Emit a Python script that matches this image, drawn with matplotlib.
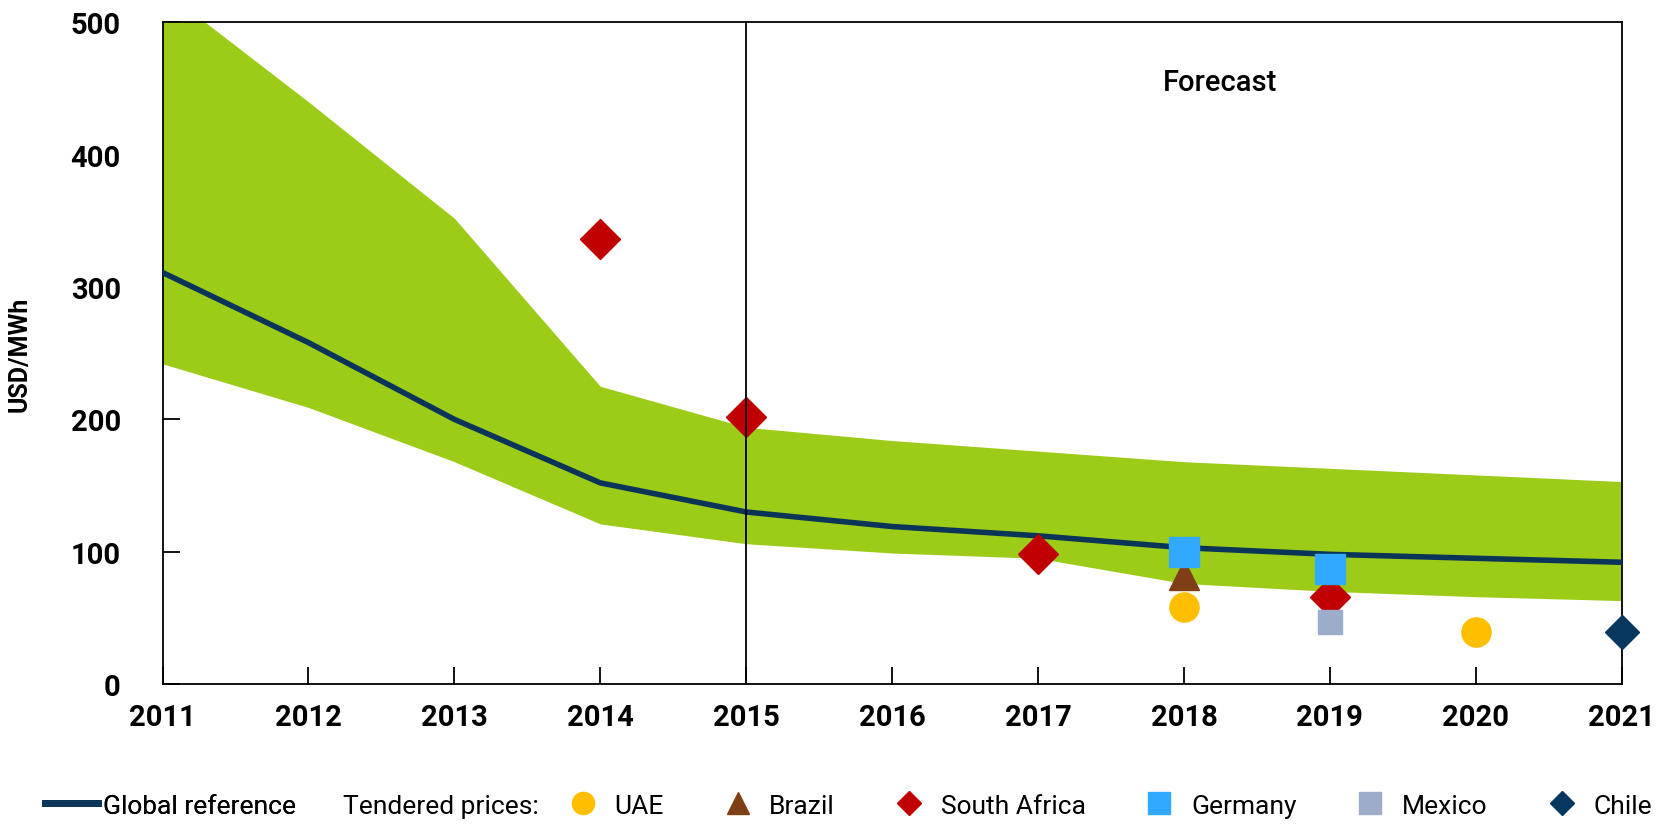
import matplotlib
matplotlib.use('Agg')
import matplotlib.pyplot as plt
from matplotlib.lines import Line2D

plt.rcParams['font.family'] = ['Roboto', 'DejaVu Sans']

years = [2011, 2012, 2013, 2014, 2015, 2016, 2017, 2018, 2019, 2020, 2021]
band_high = [525, 440, 352, 225, 194, 184, 176, 168, 163, 158, 153]
band_low = [242, 209, 168, 121, 106, 99, 95, 76, 70, 66, 63]
global_ref = [311, 258, 200, 152, 130, 119, 112, 103, 98, 95, 92]

uae_x, uae_y = [2018, 2020], [58, 39]
brazil_x, brazil_y = [2018], [82]
safrica_x, safrica_y = [2014, 2015, 2017, 2019], [336, 202, 98, 66]
germany_x, germany_y = [2018, 2019], [100, 87]
mexico_x, mexico_y = [2019], [47]
chile_x, chile_y = [2021], [39]

fig = plt.figure(figsize=(16.65, 8.29), dpi=100)
ax = fig.add_axes([0.0976, 0.1737, 0.8764, 0.7981])

# band and central line
ax.fill_between(years, band_low, band_high, color='#9CCC18', lw=0, zorder=2)
ax.plot(years, global_ref, color='#0B3558', lw=4, zorder=3)

# 2015 separator
ax.axvline(2015, color='black', lw=1.3, zorder=6)

ms = dict(linestyle='none', zorder=5)
ax.plot(uae_x, uae_y, 'o', color='#FFBF00', markersize=21, **ms)
ax.plot(brazil_x, brazil_y, '^', color='#7F3F16', markersize=22, **ms)
ax.plot(safrica_x, safrica_y, 'D', color='#C00000', markersize=20, **ms)
ax.plot(germany_x, germany_y, 's', color='#30A9FF', markersize=22, **ms)
ax.plot(mexico_x, mexico_y, 's', color='#9EACCC', markersize=17, **ms)
ax.plot(chile_x, chile_y, 'D', color='#07375E', markersize=17, clip_on=False, **ms)

ax.text(2018.25, 455, 'Forecast', fontsize=21, fontweight='medium',
        ha='center', va='center')

ax.set_xlim(2011, 2021)
ax.set_ylim(0, 500)
ax.set_xticks(years)
ax.set_yticks([0, 100, 200, 300, 400, 500])
ax.tick_params(direction='in', length=12, width=1.3, labelsize=21)
ax.tick_params(axis='y', pad=30)
ax.tick_params(axis='x', pad=14)
for lab in ax.get_xticklabels() + ax.get_yticklabels():
    lab.set_fontweight('bold')
for s in ax.spines.values():
    s.set_linewidth(1.3)
ax.set_ylabel('USD/MWh', fontsize=18, fontweight='bold', labelpad=28)

# legend row: line entry, "Tendered prices:" text, then the markers
leg_y = 0.027
leg1 = fig.legend([Line2D([], [], color='#0B3558', lw=5)], ['Global reference'],
                  loc='center left', bbox_to_anchor=(0.027, leg_y), frameon=False,
                  fontsize=19, handlelength=2.0, handletextpad=0.2,
                  borderpad=0, borderaxespad=0)
fig.text(0.206, leg_y, 'Tendered prices:', fontsize=19, va='center', ha='left')

handles = [
    Line2D([], [], marker='o', color='#FFBF00', ls='none', markersize=16),
    Line2D([], [], marker='^', color='#7F3F16', ls='none', markersize=16),
    Line2D([], [], marker='D', color='#C00000', ls='none', markersize=12),
    Line2D([], [], marker='s', color='#30A9FF', ls='none', markersize=16),
    Line2D([], [], marker='s', color='#9EACCC', ls='none', markersize=16),
    Line2D([], [], marker='D', color='#07375E', ls='none', markersize=12),
]
labels = ['UAE', 'Brazil', 'South Africa', 'Germany', 'Mexico', 'Chile']
fig.legend(handles, labels, loc='center left', bbox_to_anchor=(0.342, leg_y),
           ncol=6, frameon=False, fontsize=19, handlelength=1.0,
           handletextpad=0.7, columnspacing=2.3, borderpad=0, borderaxespad=0)
fig.add_artist(leg1)

fig.savefig('out.png', dpi=100)
